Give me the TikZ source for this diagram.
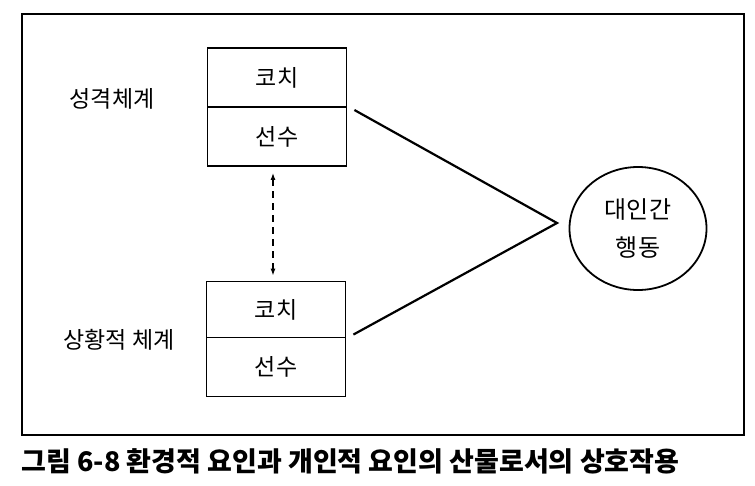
\documentclass[tikz,border=0pt]{standalone}
\usepackage{fontspec}
\setmainfont{Noto Sans CJK KR}
\usetikzlibrary{arrows.meta}
\usetikzlibrary{shapes.geometric}

\begin{document}
\begin{tikzpicture}[x=1pt,y=-1pt,
    cell/.style={draw,line width=1.8pt,minimum width=139pt,minimum height=59pt,inner sep=0pt,font=\fontsize{23}{24}\selectfont},
    lab/.style={font=\fontsize{23}{26}\selectfont}]
    			\useasboundingbox (0,0) rectangle (755,485);
    			\draw[line width=1.8pt] (22,14) rectangle (744,435);
    			% upper box
    			\node[cell] (coachT) at (277,77.5) {코치};
    			\node[cell] (playerT) at (277,136.5) {선수};
    			% lower box
    			\node[cell,minimum height=56pt] (coachB) at (276,309.5) {코치};
    			\node[cell,minimum height=59pt] (playerB) at (276,367) {선수};
    			\node[lab] (pers) at (112,99) {성격체계};
    			\node[lab] (situ) at (119,340) {상황적 체계};
    			\node[draw,ellipse,line width=1.8pt,minimum width=137pt,minimum height=123pt,inner sep=0pt,align=center,
    			      font=\fontsize{24}{38}\selectfont] (behav) at (638,228.5) {대인간\\행동};
    			\coordinate (apex) at (557,223);
    			\draw[line width=2.2pt,shorten <=8pt] (playerT.north east) -- (apex) -- (coachB.south east) [shorten >=8pt];
    			\draw[line width=1.2pt,dash pattern=on 7pt off 5pt,{Latex[length=7pt,width=5pt]}-{Latex[length=7pt,width=5pt]},shorten <=6pt,shorten >=5pt]
    			      ([xshift=-4pt]playerT.south) -- ([xshift=-3pt]coachB.north);
    			\node[anchor=west,font=\bfseries\fontsize{27}{30}\selectfont] (cap) at (18,461) {그림 6-8 환경적 요인과 개인적 요인의 산물로서의 상호작용};
    		\end{tikzpicture}
\end{document}
